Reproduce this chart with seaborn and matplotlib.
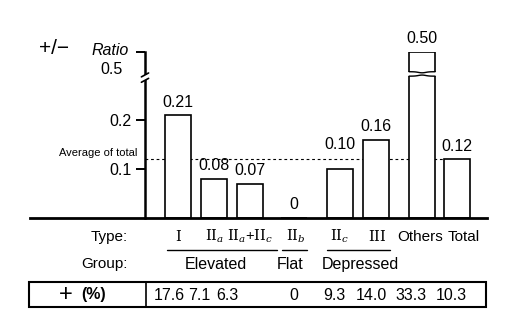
import numpy as np
import pandas as pd
import matplotlib
matplotlib.use("Agg")
import matplotlib.pyplot as plt
from matplotlib.lines import Line2D
from matplotlib.patches import Rectangle
from matplotlib.transforms import ScaledTranslation
import seaborn as sns

# ---- data ---------------------------------------------------------------
types = [r"$\mathrm{I}$", r"$\mathrm{II}_a$", r"$\mathrm{II}_a$+$\mathrm{II}_c$",
         r"$\mathrm{II}_b$", r"$\mathrm{II}_c$", r"$\mathrm{III}$",
         "Others", "Total"]
ratio = [0.21, 0.08, 0.07, 0.0, 0.10, 0.16, 0.50, 0.12]
ratio_text = ["0.21", "0.08", "0.07", "0", "0.10", "0.16", "0.50", "0.12"]
positive_pct = ["17.6", "7.1", "6.3", "0", "9.3", "14.0", "33.3", "10.3"]
groups = ["Elevated", "Flat", "Depressed"]
average_total = 0.12
ytick_values = [0.1, 0.2, 0.5]
ytick_labels = ["0.1", "0.2", "0.5"]

# ---- layout -------------------------------------------------------------
slot = [0, 1, 2, 3.22, 4.5, 5.5, 6.78, 7.75]          # bar centres
label_shift = [0, 1, 0, 2, 0, 1, -2, 7]                # tick label nudges (px)
pct_x = [169, 199, 227, 294, 334, 371, 411, 451]       # table columns (px)
group_x = [216, 290, 360]                              # group captions (px)

W, H = 532, 324
def fx(px):
    return px / W
def fy(py):
    return 1 - py / H

sns.set_theme(style="white")
plt.rcParams["font.family"] = ["Liberation Sans", "DejaVu Sans"]
plt.rcParams["mathtext.fontset"] = "dejavuserif"
for key in ("text.color", "axes.edgecolor", "axes.labelcolor",
            "xtick.color", "ytick.color"):
    plt.rcParams[key] = "black"

fig = plt.figure(figsize=(W / 100, H / 100), dpi=100)
ax = fig.add_axes([fx(30), fy(218), (487 - 30) / W, (218 - 52) / H])

df = pd.DataFrame({"slot": slot, "ratio": ratio})
sns.barplot(data=df, x="slot", y="ratio", native_scale=True, width=0.744,
            color="white", saturation=1, edgecolor="black", linewidth=1.2,
            errorbar=None, ax=ax, zorder=2)

# broken value axis: linear up to 0.3, compressed above
K = 95 / 490
def fwd(v):
    v = np.asarray(v, dtype=float)
    return np.where(v <= 0.3, v, 0.3 + (v - 0.3) * K)
def inv(u):
    u = np.asarray(u, dtype=float)
    return np.where(u <= 0.3, u, 0.3 + (u - 0.3) / K)
ax.set_yscale("function", functions=(fwd, inv))
ax.set_ylim(0, 0.5)

y_axis_x = -33 / 36
ax.set_xlim(-148 / 36, 309 / 36)

for side in ("top", "right"):
    ax.spines[side].set_visible(False)
ax.spines["left"].set_position(("data", y_axis_x))
ax.spines["left"].set_bounds(0, 0.5)
ax.spines["left"].set_linewidth(1.8)
ax.spines["bottom"].set_linewidth(2.0)

ax.set_yticks(ytick_values, labels=[ytick_labels[0], ytick_labels[1], ""])
ax.tick_params(axis="y", direction="out", length=6.5, width=1.4, pad=3,
               labelsize=11.5, left=True)
ax.set_xlabel("")
ax.set_ylabel("")

ax.set_xticks(slot, labels=types)
ax.tick_params(axis="x", length=0, pad=16.5, labelsize=11)
for lab, dx in zip(ax.get_xticklabels(), label_shift):
    lab.set_verticalalignment("baseline")
    if lab.get_text() not in ("Others", "Total"):
        lab.set_fontsize(10.5)
    lab.set_transform(lab.get_transform()
                      + ScaledTranslation(dx / 100, 0, fig.dpi_scale_trans))

bars = ax.containers[0]

# average line
ax.plot([y_axis_x, bars[7].get_x()], [average_total, average_total],
        ls=(0, (2.5, 2.5)), lw=0.8, color="black", zorder=1)
fig.text(fx(137), fy(156), "Average of total", ha="right", va="baseline",
         fontsize=8)

# value labels
anns = ax.bar_label(bars, labels=ratio_text, padding=4, fontsize=11.5,
                    color="black")
anns[4].xyann = (0, 12)

# break in the tall bar
r = bars[6]
x0, w = r.get_x(), r.get_width()
ax.fill_between([x0 - 0.05, x0 + w + 0.05], 0.2895, 0.2985, color="white",
                zorder=3, lw=0)
xs = np.linspace(x0, x0 + w, 40)
bump = np.exp(-((xs - (x0 + w / 2)) / (0.2 * w)) ** 2)
ax.plot(xs, 0.2985 - 0.0022 * bump, color="black", lw=1.0, zorder=4)
ax.plot(xs, 0.2895 + 0.0022 * bump, color="black", lw=1.0, zorder=4)

# break on the value axis
ax.fill_between([y_axis_x - 0.06, y_axis_x + 0.06], 0.281, 0.292,
                color="white", zorder=5, lw=0, clip_on=False)
for yb in (0.281, 0.292):
    ax.plot([y_axis_x - 0.1, y_axis_x + 0.1], [yb - 0.004, yb + 0.004],
            color="black", lw=1.2, zorder=6, clip_on=False)

# axis title and top tick label
fig.text(fx(39), fy(48), "+/−", ha="left", va="center", fontsize=15)
fig.text(fx(92), fy(55), "Ratio", ha="left", va="baseline", fontsize=11.5,
         style="italic")
fig.text(fx(123), fy(70), ytick_labels[2], ha="right", va="center",
         fontsize=11.5)

# row captions
fig.text(fx(128), fy(241), "Type:", ha="right", va="baseline", fontsize=11)
fig.text(fx(128), fy(268), "Group:", ha="right", va="baseline", fontsize=11)
for gx, g in zip(group_x, groups):
    fig.text(fx(gx), fy(269), g, ha="center", va="baseline", fontsize=11.5)
for a, b in ((167, 277), (282, 307), (327, 390)):
    fig.add_artist(Line2D([fx(a), fx(b)], [fy(250), fy(250)], lw=1.0,
                          color="black"))

# percentage table
fig.add_artist(Rectangle((fx(29), fy(307)), (486 - 29) / W, 25 / H,
                         transform=fig.transFigure, fill=False, lw=1.5,
                         ec="black"))
fig.add_artist(Line2D([fx(146), fx(146)], [fy(282), fy(307)], lw=1.2,
                      color="black"))
fig.text(fx(66), fy(295), "+", ha="center", va="center", fontsize=17)
fig.text(fx(94), fy(295), "(%)", ha="center", va="center", fontsize=11.5,
         fontweight="bold")
for px, t in zip(pct_x, positive_pct):
    fig.text(fx(px), fy(295), t, ha="center", va="center", fontsize=11.5)

fig.savefig("out.png", dpi=100, facecolor="white")
